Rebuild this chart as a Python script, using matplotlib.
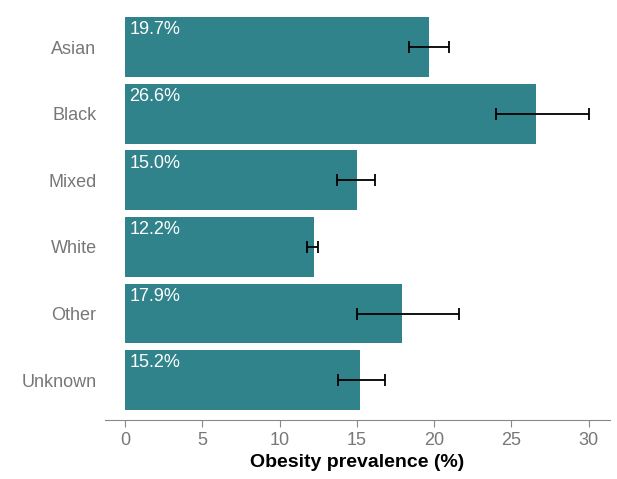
import matplotlib
matplotlib.use("Agg")
import matplotlib.pyplot as plt
plt.rcParams['font.family'] = ['Liberation Sans', 'DejaVu Sans']

groups = ["Asian", "Black", "Mixed", "White", "Other", "Unknown"]
values = [19.7, 26.6, 15.0, 12.2, 17.9, 15.2]
lower = [18.4, 24.0, 13.7, 11.8, 15.0, 13.8]
upper = [21.0, 30.0, 16.2, 12.5, 21.6, 16.8]

fig = plt.figure(figsize=(6.17, 4.79), dpi=100)
ax = fig.add_axes([0.17, 0.123, 0.819, 0.862])
ys = list(range(len(groups)))[::-1]
ax.barh(ys, values, height=0.9, color="#31838B")
xerr = [[v - l for v, l in zip(values, lower)], [u - v for v, u in zip(values, upper)]]
ax.errorbar(values, ys, xerr=xerr, fmt="none", ecolor="black", elinewidth=1.3, capsize=4, capthick=1.3)
for y, v in zip(ys, values):
    ax.text(0.3, y + 0.26, f"{v:.1f}%", color="white", fontsize=13, va="center", ha="left")
ax.set_yticks(ys)
ax.set_yticklabels(groups, fontsize=13, color="#777777")
ax.set_xticks([0, 5, 10, 15, 20, 25, 30])
ax.tick_params(axis="x", labelsize=13, labelcolor="#777777", color="#888888", length=5)
ax.tick_params(axis="y", length=0, pad=6)
ax.set_xlim(-1.3, 31.4)
ax.set_ylim(-0.6, 5.6)
for s in ["top", "right"]:
    ax.spines[s].set_visible(False)
ax.spines["left"].set_visible(False)
ax.spines["bottom"].set_color("#888888")
ax.set_xlabel("Obesity prevalence (%)", fontsize=14, fontweight="bold")
fig.savefig("out.png", dpi=100)
